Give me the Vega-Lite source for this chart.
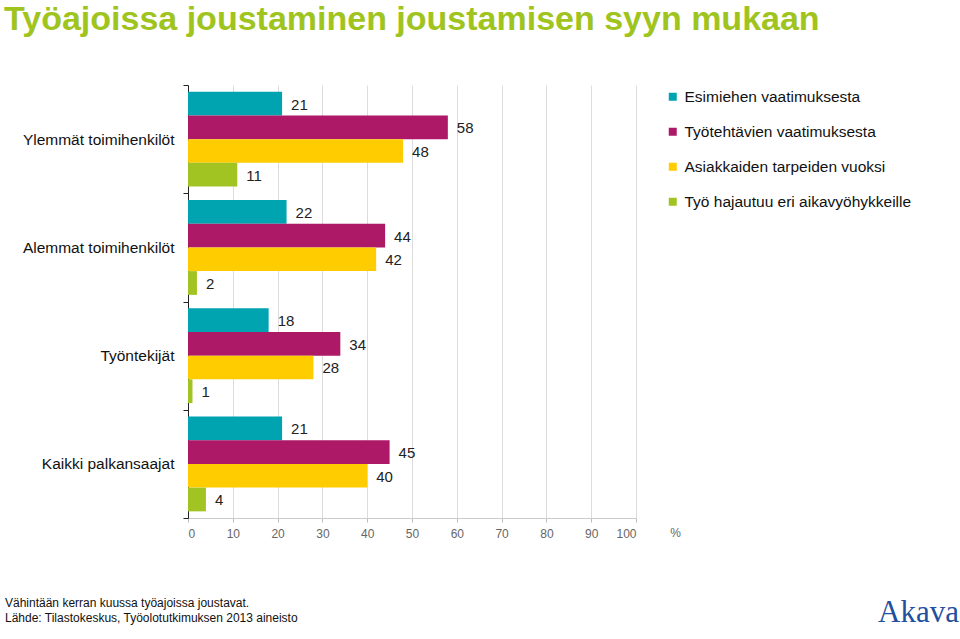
{
  "$schema": "https://vega.github.io/schema/vega-lite/v6.json",
  "width": 448,
  "height": 433,
  "autosize": {"type": "none"},
  "padding": {"left": 188, "top": 85, "right": 324, "bottom": 121},
  "background": "white",
  "title": {
    "text": "Työajoissa joustaminen joustamisen syyn mukaan",
    "anchor": "start",
    "frame": "group",
    "dx": -184,
    "offset": 41,
    "fontSize": 34,
    "fontWeight": "bold",
    "font": "Liberation Sans",
    "color": "#a0c41e"
  },
  "config": {
    "view": {"stroke": null},
    "font": "Liberation Sans",
    "legend": {
      "orient": "none",
      "legendX": 477,
      "legendY": 4,
      "padding": 0,
      "symbolType": "square",
      "symbolSize": 64,
      "symbolStrokeWidth": 0,
      "labelFontSize": 15.5,
      "labelFont": "Liberation Sans",
      "labelColor": "#111",
      "labelOffset": 4,
      "rowPadding": 18,
      "labelLimit": 400
    }
  },
  "datasets": {
    "bars": [
      {"ryhma": "Ylemmät toimihenkilöt", "syy": "Esimiehen vaatimuksesta", "arvo": 21},
      {"ryhma": "Ylemmät toimihenkilöt", "syy": "Työtehtävien vaatimuksesta", "arvo": 58},
      {"ryhma": "Ylemmät toimihenkilöt", "syy": "Asiakkaiden tarpeiden vuoksi", "arvo": 48},
      {"ryhma": "Ylemmät toimihenkilöt", "syy": "Työ hajautuu eri aikavyöhykkeille", "arvo": 11},
      {"ryhma": "Alemmat toimihenkilöt", "syy": "Esimiehen vaatimuksesta", "arvo": 22},
      {"ryhma": "Alemmat toimihenkilöt", "syy": "Työtehtävien vaatimuksesta", "arvo": 44},
      {"ryhma": "Alemmat toimihenkilöt", "syy": "Asiakkaiden tarpeiden vuoksi", "arvo": 42},
      {"ryhma": "Alemmat toimihenkilöt", "syy": "Työ hajautuu eri aikavyöhykkeille", "arvo": 2},
      {"ryhma": "Työntekijät", "syy": "Esimiehen vaatimuksesta", "arvo": 18},
      {"ryhma": "Työntekijät", "syy": "Työtehtävien vaatimuksesta", "arvo": 34},
      {"ryhma": "Työntekijät", "syy": "Asiakkaiden tarpeiden vuoksi", "arvo": 28},
      {"ryhma": "Työntekijät", "syy": "Työ hajautuu eri aikavyöhykkeille", "arvo": 1},
      {"ryhma": "Kaikki palkansaajat", "syy": "Esimiehen vaatimuksesta", "arvo": 21},
      {"ryhma": "Kaikki palkansaajat", "syy": "Työtehtävien vaatimuksesta", "arvo": 45},
      {"ryhma": "Kaikki palkansaajat", "syy": "Asiakkaiden tarpeiden vuoksi", "arvo": 40},
      {"ryhma": "Kaikki palkansaajat", "syy": "Työ hajautuu eri aikavyöhykkeille", "arvo": 4}
    ],
    "notes": [
      {"teksti": "Vähintään kerran kuussa työajoissa joustavat.\nLähde: Tilastokeskus, Työolotutkimuksen 2013 aineisto"}
    ],
    "logo": [
      {"teksti": "Akava"}
    ]
  },
  "layer": [
    {
      "data": {"name": "bars"},
      "mark": {"type": "bar"},
      "encoding": {
        "y": {
          "field": "ryhma",
          "type": "nominal",
          "sort": ["Ylemmät toimihenkilöt", "Alemmat toimihenkilöt", "Työntekijät", "Kaikki palkansaajat"],
          "scale": {"paddingInner": 0, "paddingOuter": 0},
          "axis": {
            "title": null,
            "tickBand": "extent",
            "domainColor": "#222",
            "tickColor": "#222",
            "tickSize": 5,
            "labelFontSize": 15.5,
            "labelColor": "#111",
            "labelPadding": 9,
            "labelLimit": 300,
            "grid": false
          }
        },
        "yOffset": {
          "field": "syy",
          "type": "nominal",
          "sort": ["Esimiehen vaatimuksesta", "Työtehtävien vaatimuksesta", "Asiakkaiden tarpeiden vuoksi", "Työ hajautuu eri aikavyöhykkeille"],
          "scale": {"paddingInner": 0, "paddingOuter": 0.28}
        },
        "x": {
          "field": "arvo",
          "type": "quantitative",
          "scale": {"domain": [0, 100], "nice": false},
          "axis": {
            "title": "%",
            "titleFontSize": 12,
            "titleFontWeight": "normal",
            "titleColor": "#666",
            "titleAnchor": "start",
            "titleX": 487,
            "titleY": 9,
            "titleBaseline": "top",
            "titleAlign": "center",
            "values": [0, 10, 20, 30, 40, 50, 60, 70, 80, 90, 100],
            "labelFontSize": 12,
            "labelColor": "#666",
            "labelPadding": 6,
            "tickColor": "#bbb",
            "tickSize": 4,
            "domainColor": "#ccc",
            "gridColor": "#dcdcdc",
            "gridWidth": 1
          }
        },
        "color": {
          "field": "syy",
          "type": "nominal",
          "scale": {
            "domain": ["Esimiehen vaatimuksesta", "Työtehtävien vaatimuksesta", "Asiakkaiden tarpeiden vuoksi", "Työ hajautuu eri aikavyöhykkeille"],
            "range": ["#00a4b0", "#ad1867", "#ffcc00", "#a2c422"]
          },
          "legend": {"title": null}
        }
      }
    },
    {
      "data": {"name": "bars"},
      "mark": {"type": "text", "align": "left", "baseline": "middle", "dx": 9, "dy": 1, "fontSize": 15, "color": "#222"},
      "encoding": {
        "y": {
          "field": "ryhma",
          "type": "nominal",
          "sort": ["Ylemmät toimihenkilöt", "Alemmat toimihenkilöt", "Työntekijät", "Kaikki palkansaajat"]
        },
        "yOffset": {
          "field": "syy",
          "type": "nominal",
          "sort": ["Esimiehen vaatimuksesta", "Työtehtävien vaatimuksesta", "Asiakkaiden tarpeiden vuoksi", "Työ hajautuu eri aikavyöhykkeille"]
        },
        "x": {"field": "arvo", "type": "quantitative"},
        "text": {"field": "arvo", "type": "quantitative"}
      }
    },
    {
      "data": {"name": "notes"},
      "mark": {"type": "text", "align": "left", "baseline": "alphabetic", "fontSize": 12, "lineBreak": "\n", "lineHeight": 14.5, "color": "#111"},
      "encoding": {
        "x": {"value": -183},
        "y": {"value": 522},
        "text": {"field": "teksti", "type": "nominal"}
      }
    },
    {
      "data": {"name": "logo"},
      "mark": {"type": "text", "align": "left", "baseline": "alphabetic", "fontSize": 31, "font": "Liberation Serif", "color": "#1f4f9e"},
      "encoding": {
        "x": {"value": 690},
        "y": {"value": 537},
        "text": {"field": "teksti", "type": "nominal"}
      }
    }
  ]
}
